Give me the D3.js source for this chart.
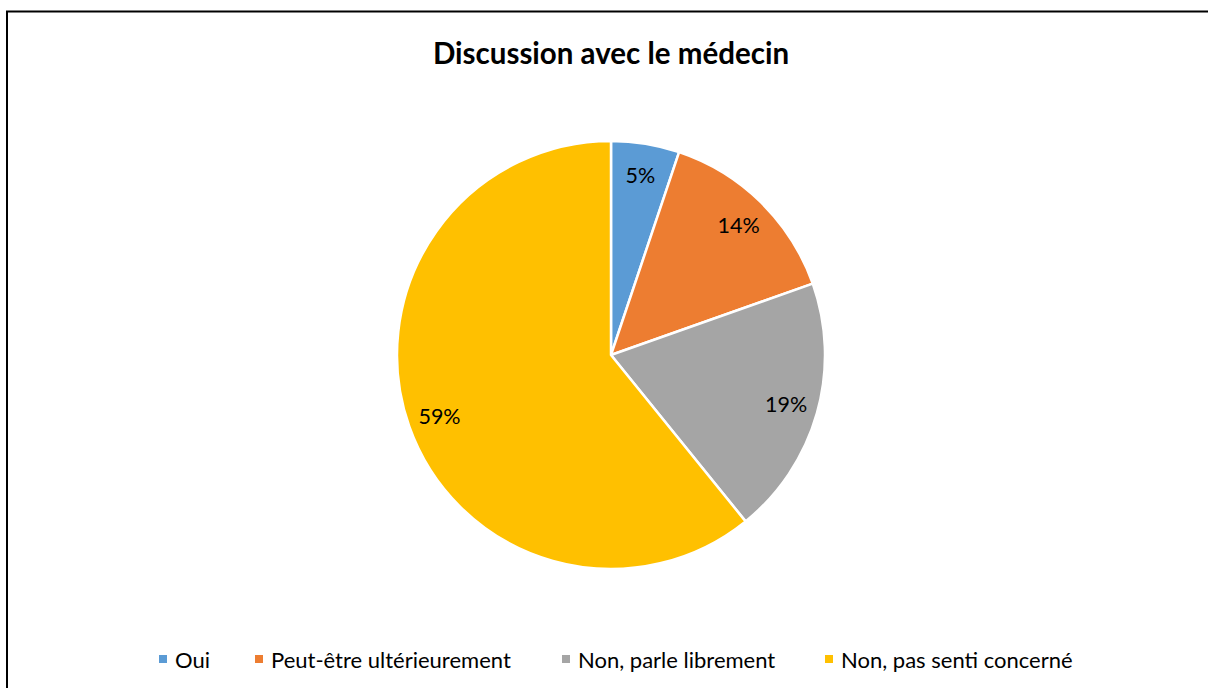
<!DOCTYPE html>
<html>
<head>
<meta charset="utf-8">
<script src="https://cdn.jsdelivr.net/npm/d3@7"></script>
<style>
  body { margin: 0; background: #fff; }
  svg text { font-family: Lato, "Open Sans", sans-serif; }
</style>
</head>
<body>
<div id="canvas"></div>
<script>
let categories = ["Oui", "Peut-être ultérieurement", "Non, parle librement", "Non, pas senti concerné"];
let values = [5, 14, 19, 59];
let colors = ["#5b9bd5", "#ed7d31", "#a5a5a5", "#ffc000"];
let title = "Discussion avec le médecin";

let width = 1209, height = 688;
let svg = d3
  .select("#canvas")
  .append("svg")
  .attr("width", width)
  .attr("height", height);

svg.append("rect")
  .attr("width", width).attr("height", height).attr("fill", "#fff");

// frame (only top and left visible)
svg.append("path")
  .attr("d", `M7,${height} V11.5 H${width - 1}`)
  .attr("fill", "none")
  .attr("stroke", "#000")
  .attr("stroke-width", 2);

svg.append("text")
  .attr("x", 611)
  .attr("y", 64)
  .attr("text-anchor", "middle")
  .attr("font-size", 29.5)
  .attr("font-weight", "bold")
  .text(title);

let cx = 611, cy = 355, radius = 214;
let pie = d3.pie().sort(null).value((d) => d);
let arcs = pie(values);
let arc = d3.arc().innerRadius(0).outerRadius(radius);
let labelArc = d3.arc().innerRadius(radius * 0.85).outerRadius(radius * 0.85);

let g = svg.append("g").attr("transform", `translate(${cx},${cy})`);

g.selectAll("path")
  .data(arcs)
  .join("path")
  .attr("d", arc)
  .attr("fill", (d, i) => colors[i])
  .attr("stroke", "#fff")
  .attr("stroke-width", 2.5)
  .attr("stroke-linejoin", "round");

g.selectAll("text")
  .data(arcs)
  .join("text")
  .attr("transform", (d) => `translate(${labelArc.centroid(d)})`)
  .attr("text-anchor", "middle")
  .attr("dominant-baseline", "central")
  .attr("font-size", 21.5)
  .attr("fill", "#000")
  .text((d) => d.data + "%");

// legend
let legendX = [159, 255, 562, 825];
let legend = svg.append("g");
let items = legend.selectAll("g")
  .data(categories)
  .join("g")
  .attr("transform", (d, i) => `translate(${legendX[i]},659)`);

items.append("rect")
  .attr("x", 0).attr("y", -4)
  .attr("width", 8).attr("height", 8)
  .attr("fill", (d, i) => colors[i]);

items.append("text")
  .attr("x", 16)
  .attr("y", 0)
  .attr("dominant-baseline", "central")
  .attr("font-size", 22)
  .attr("fill", "#000")
  .text((d) => d);
</script>
</body>
</html>
